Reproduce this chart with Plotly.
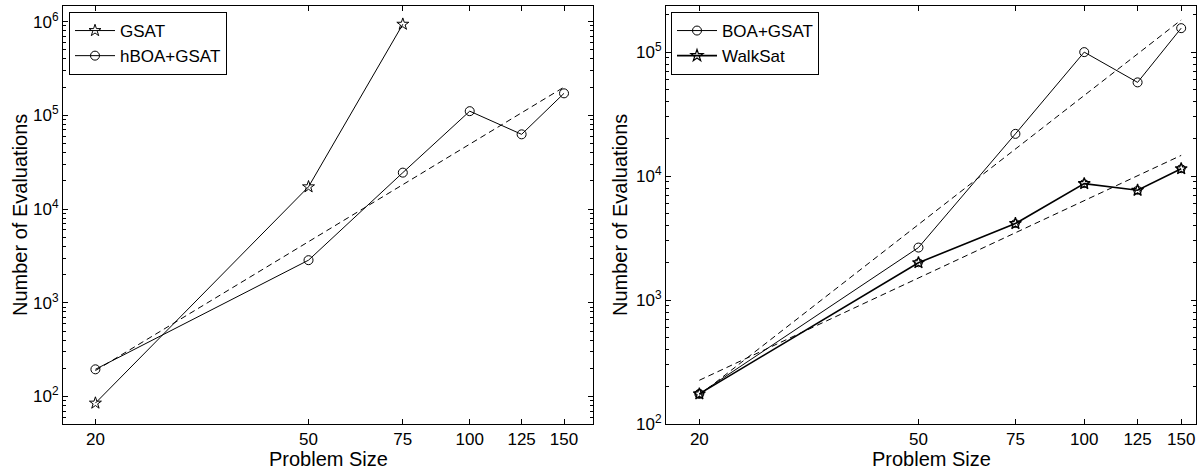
import numpy as np
import plotly.graph_objects as go

# Problem sizes (number of variables)
sizes = [20, 50, 75, 100, 125, 150]
gsat_sizes = [20, 50, 75]

# Left panel: evaluations until solution
gsat_evals = [85, 17300, 940000]
hboa_gsat_evals = [195, 2850, 24500, 111000, 62800, 172000]

# Right panel
boa_gsat_evals = [175, 2650, 21900, 100000, 57000, 156000]
walksat_evals = [175, 2000, 4140, 8690, 7680, 11460]

x_tick_vals = [20, 50, 75, 100, 125, 150]
x_tick_text = ["20", "50", "75", "100", "125", "150"]

FONT = "Liberation Sans, Arial, Helvetica, sans-serif"
W, H = 1202, 473


def power_fit(x, y):
    """Least-squares straight line in log-log space, evaluated over the data span."""
    lx, ly = np.log10(x), np.log10(y)
    b, a = np.polyfit(lx, ly, 1)
    xs = np.array([min(x), max(x)], dtype=float)
    return xs, 10 ** (a + b * np.log10(xs))


def decade_ticks(lo, hi):
    major = [10 ** k for k in range(lo, hi + 1)]
    text = [f"10<sup>{k}</sup>" for k in range(lo, hi + 1)]
    minor = [m * 10 ** k for k in range(lo - 1, hi + 1) for m in range(2, 10)]
    return major, text, minor


line = dict(color="black", width=1)
dash = dict(color="black", width=1, dash="6px,4px")

fig = go.Figure()

# ---- left panel ----
fig.add_trace(go.Scatter(
    x=gsat_sizes, y=gsat_evals, name="GSAT", mode="lines+markers",
    line=line, marker=dict(symbol="star-open", size=9, color="black", line=dict(width=1)),
    xaxis="x", yaxis="y", legend="legend"))
fig.add_trace(go.Scatter(
    x=sizes, y=hboa_gsat_evals, name="hBOA+GSAT", mode="lines+markers",
    line=line, marker=dict(symbol="circle-open", size=9, color="black", line=dict(width=1)),
    xaxis="x", yaxis="y", legend="legend"))
fx, fy = power_fit(sizes, hboa_gsat_evals)
fig.add_trace(go.Scatter(x=fx, y=fy, mode="lines", line=dash, showlegend=False,
                         hoverinfo="skip", xaxis="x", yaxis="y"))

# ---- right panel ----
fig.add_trace(go.Scatter(
    x=sizes, y=boa_gsat_evals, name="BOA+GSAT", mode="lines+markers",
    line=line, marker=dict(symbol="circle-open", size=9, color="black", line=dict(width=1)),
    xaxis="x2", yaxis="y2", legend="legend2"))
fig.add_trace(go.Scatter(
    x=sizes, y=walksat_evals, name="WalkSat", mode="lines+markers",
    line=dict(color="black", width=1.6),
    marker=dict(symbol="star-open", size=9, color="black", line=dict(width=1.2)),
    xaxis="x2", yaxis="y2", legend="legend2"))
fig.add_trace(go.Scatter(
    x=sizes, y=walksat_evals, mode="markers", showlegend=False, hoverinfo="skip",
    marker=dict(symbol="circle-open", size=8, color="black", line=dict(width=1)),
    xaxis="x2", yaxis="y2"))
for series in (boa_gsat_evals, walksat_evals):
    fx, fy = power_fit(sizes, series)
    fig.add_trace(go.Scatter(x=fx, y=fy, mode="lines", line=dash, showlegend=False,
                             hoverinfo="skip", xaxis="x2", yaxis="y2"))

# ---- axes ----
top_px, bottom_px = 6, 424
ydom = [1 - bottom_px / H, 1 - top_px / H]

common_x = dict(
    type="log", tickmode="array", tickvals=x_tick_vals, ticktext=x_tick_text,
    ticks="inside", ticklen=5, tickcolor="black", tickwidth=1,
    showline=True, linecolor="black", linewidth=1, mirror="allticks",
    showgrid=False, zeroline=False, automargin=False,
    tickfont=dict(family=FONT, size=17, color="black"),
)
common_y = dict(
    type="log", tickmode="array",
    ticks="inside", ticklen=5, tickcolor="black", tickwidth=1,
    showline=True, linecolor="black", linewidth=1, mirror="allticks",
    showgrid=False, zeroline=False, automargin=False,
    tickfont=dict(family=FONT, size=17, color="black"),
)

maj1, txt1, min1 = decade_ticks(2, 6)
maj2, txt2, min2 = decade_ticks(2, 5)

legend_style = dict(
    xanchor="left", yanchor="top", y=1 - 12 / H,
    bgcolor="white", bordercolor="black", borderwidth=1,
    font=dict(family=FONT, size=17, color="black"), tracegroupgap=0,
    itemwidth=40,
)

fig.update_layout(
    width=W, height=H,
    margin=dict(l=0, r=0, t=0, b=0),
    paper_bgcolor="white", plot_bgcolor="white",
    font=dict(family=FONT, color="black"),
    xaxis=dict(common_x, domain=[63 / W, 593 / W], range=[1.2405, 2.2302], anchor="y"),
    yaxis=dict(common_y, domain=ydom, range=[1.7065, 6.1676], anchor="x",
               tickvals=maj1, ticktext=txt1,
               minor=dict(tickvals=min1, ticks="inside", ticklen=3, tickcolor="black")),
    xaxis2=dict(common_x, domain=[666 / W, 1196 / W], range=[1.2405, 2.203], anchor="y2"),
    yaxis2=dict(common_y, domain=ydom, range=[2.0, 5.372], anchor="x2",
                tickvals=maj2, ticktext=txt2,
                minor=dict(tickvals=min2, ticks="inside", ticklen=3, tickcolor="black")),
    legend=dict(legend_style, x=69 / W),
    legend2=dict(legend_style, x=671 / W),
    showlegend=True,
)

# axis titles
title_font = dict(family=FONT, size=20, color="black")
for cx in ((63 + 593) / 2, (666 + 1196) / 2):
    fig.add_annotation(text="Problem Size", x=cx / W, y=1 - 459 / H, xref="paper", yref="paper",
                       showarrow=False, font=title_font, xanchor="center", yanchor="middle")
for cx in (20, 620):
    fig.add_annotation(text="Number of Evaluations", x=cx / W, y=1 - 215 / H,
                       xref="paper", yref="paper", textangle=-90,
                       showarrow=False, font=title_font, xanchor="center", yanchor="middle")

fig.write_html("out.html")
